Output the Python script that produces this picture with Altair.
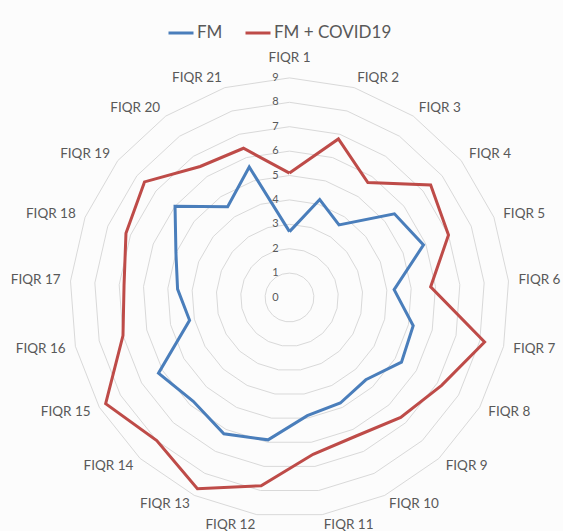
import altair as alt
import pandas as pd

categories = [f"FIQR {i}" for i in range(1, 22)]
fm = [2.7, 4.2, 3.6, 5.5, 5.9, 4.3, 5.2, 5.3, 4.6, 4.8, 4.9,
      5.9, 6.2, 5.8, 6.2, 4.2, 4.6, 5.0, 6.0, 4.5, 5.6]
fm_covid = [5.1, 6.8, 5.7, 7.4, 7.0, 5.8, 8.2, 7.2, 6.7, 6.3, 6.5,
            7.8, 8.7, 8.0, 8.7, 7.0, 6.8, 7.2, 7.6, 6.5, 6.4]
series = ["FM", "FM + COVID19"]
colors = ["#4A7EBB", "#BE4B48"]
ticks = [0, 1, 2, 3, 4, 5, 6, 7, 8, 9]

W, H = 563, 531
CX, CY = 289.5, 297.5
UNIT = 24.4
N = len(categories)
TEXT = "#595959"
FONT = "Lato"

rows = []
for name, vals in zip(series, [fm, fm_covid]):
    for k in range(N + 1):
        i = k % N
        rows.append({"series": name, "category": categories[i], "idx": i,
                     "order": k, "value": vals[i]})
df_series = pd.DataFrame(rows)

df_rings = pd.DataFrame([{"ring": v, "idx": k % N, "order": k}
                         for v in ticks[1:] for k in range(N + 1)])
df_ticks = pd.DataFrame({"tick": ticks})
df_labels = pd.DataFrame({"category": categories, "idx": list(range(N))})

xs = alt.Scale(domain=[-CX / UNIT, (W - CX) / UNIT], nice=False, zero=False)
ys = alt.Scale(domain=[-(H - CY) / UNIT, CY / UNIT], nice=False, zero=False)
X = alt.X("x:Q", scale=xs, axis=None)
Y = alt.Y("y:Q", scale=ys, axis=None)
theta = f"datum.idx*2*PI/{N}"

rings = alt.Chart(df_rings).transform_calculate(t=theta).transform_calculate(
    x="datum.ring*sin(datum.t)", y="datum.ring*cos(datum.t)"
).mark_line(color="#D9D9D9", strokeWidth=1).encode(
    x=X, y=Y, detail="ring:N", order="order:Q")

tick_text = alt.Chart(df_ticks).transform_calculate(
    x="0", y="datum.tick"
).mark_text(align="center", baseline="middle", dx=-14, fontSize=11,
            color=TEXT, font=FONT).encode(x=X, y=Y, text="tick:N")

lines = alt.Chart(df_series).transform_calculate(t=theta).transform_calculate(
    x="datum.value*sin(datum.t)", y="datum.value*cos(datum.t)"
).mark_line(strokeWidth=3).encode(
    x=X, y=Y, order="order:Q",
    color=alt.Color("series:N", scale=alt.Scale(domain=series, range=colors),
                    legend=alt.Legend(title=None, orient="none", legendX=167,
                                      legendY=19, direction="horizontal",
                                      symbolType="stroke", symbolSize=625,
                                      symbolStrokeWidth=3, labelFontSize=17,
                                      labelFont=FONT, labelColor=TEXT,
                                      labelOffset=2, columnPadding=16,
                                      padding=0)))

lab_base = alt.Chart(df_labels).transform_calculate(t=theta).transform_calculate(
    s="sin(datum.t)", c="cos(datum.t)"
).transform_calculate(
    r="abs(datum.s) < 0.05 ? 9.8 : 9.41"
).transform_calculate(
    x="datum.r*datum.s", y="datum.r*datum.c"
)
lab_kw = dict(baseline="middle", fontSize=13.5, color=TEXT, font=FONT)
lab_center = lab_base.transform_filter("abs(datum.s) < 0.05").mark_text(
    align="center", **lab_kw).encode(x=X, y=Y, text="category:N")
lab_left = lab_base.transform_filter("datum.s >= 0.05").mark_text(
    align="left", **lab_kw).encode(x=X, y=Y, text="category:N")
lab_right = lab_base.transform_filter("datum.s <= -0.05").mark_text(
    align="right", **lab_kw).encode(x=X, y=Y, text="category:N")

chart = alt.layer(rings, tick_text, lines, lab_center, lab_left, lab_right).properties(
    width=W, height=H, autosize=alt.AutoSizeParams(type="none"), padding=0,
    background="#FCFCFC"
).configure_view(strokeWidth=0)

chart.save("out.html", embed_options={"renderer": "svg", "actions": False})
